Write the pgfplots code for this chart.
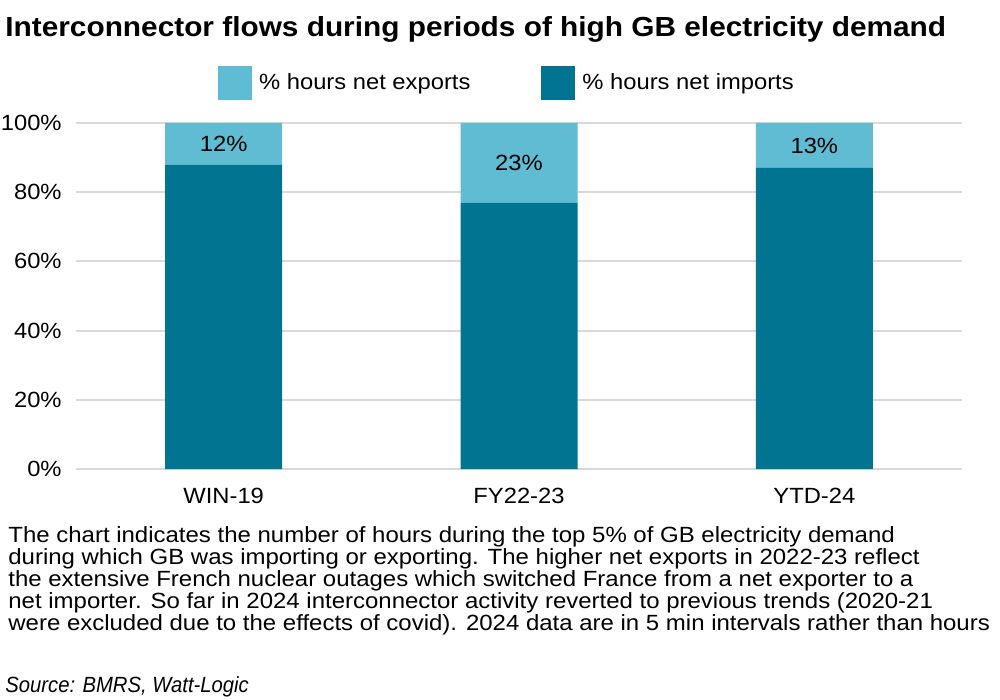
\documentclass[border=0pt]{standalone}
\usepackage{pgfplots}
\pgfplotsset{compat=1.18}
\usepackage{fontspec}
\setmainfont{Liberation Sans}[FakeStretch=1.08]
\newfontfamily\capfont{Liberation Sans}[FakeStretch=1.09]
\newfontfamily\srcfont{Liberation Sans}[FakeStretch=0.92]
\definecolor{lightc}{RGB}{95,188,210}
\definecolor{darkc}{RGB}{0,116,144}
\definecolor{gridc}{RGB}{217,217,217}
\begin{document}
\begin{tikzpicture}
\useasboundingbox (0,0) rectangle (500pt,-350pt);
\node[anchor=base west, inner sep=0pt, font=\fontsize{13.8}{14}\selectfont\bfseries] at (2.5pt,-18.5pt) {Interconnector flows during periods of high GB electricity demand};
\begin{axis}[
  at={(38pt,-234.5pt)}, anchor=south west,
  width=443pt, height=173pt, scale only axis,
  xmin=-0.5, xmax=2.5, ymin=0, ymax=100,
  ybar stacked, bar width=58.5pt,
  xtick=data, xticklabels={WIN-19,FY22-23,YTD-24},
  ytick={0,20,40,60,80,100},
  yticklabel={\pgfmathprintnumber{\tick}\%},
  /pgf/number format/assume math mode=true,
  ymajorgrids, grid style={draw=gridc, line width=1pt},
  axis line style={draw=none}, tick style={draw=none},
  tick label style={font=\fontsize{11}{11}\selectfont},
  xticklabel style={anchor=base, yshift=-17pt},
  yticklabel style={anchor=east, inner sep=0pt, xshift=-7pt},
  legend columns=2, reverse legend,
  legend style={at={(0.4875,1.116)}, anchor=center, draw=none, fill=none,
    font=\fontsize{11}{11}\selectfont,
    /tikz/every even column/.append style={column sep=33.5pt},
    /tikz/every odd column/.append style={column sep=1.5pt}},
  legend image code/.code={\fill[#1] (0pt,-8.5pt) rectangle (17pt,8.5pt);},
]
\addplot[fill=darkc, draw=none] table[x=x, y=imp] {
x imp exp
0 88 12
1 77 23
2 87 13
};
\addlegendentry{\% hours net imports}
\addplot[fill=lightc, draw=none,
  nodes near coords={\pgfmathprintnumber{\pgfplotspointmeta}\%},
  point meta=explicit,
  every node near coord/.append style={anchor=center, font=\fontsize{11}{11}\selectfont}
] table[x=x, y=exp, meta=exp] {
x imp exp
0 88 12
1 77 23
2 87 13
};
\addlegendentry{\% hours net exports}
\end{axis}
\begin{scope}[every node/.style={anchor=base west, inner sep=0pt, font=\fontsize{11}{11}\capfont}]
\node at (4pt,-271pt) {The chart indicates the number of hours during the top 5\% of GB electricity demand};
\node at (4pt,-282pt) {during which GB was importing or exporting. The higher net exports in 2022-23 reflect};
\node at (4pt,-293pt) {the extensive French nuclear outages which switched France from a net exporter to a};
\node at (4pt,-304pt) {net importer. So far in 2024 interconnector activity reverted to previous trends (2020-21};
\node at (4pt,-315pt) {were excluded due to the effects of covid). 2024 data are in 5 min intervals rather than hours};
\node[font=\fontsize{11}{11}\srcfont\itshape] at (2.5pt,-346pt) {Source: BMRS, Watt-Logic};
\end{scope}
\end{tikzpicture}
\end{document}
